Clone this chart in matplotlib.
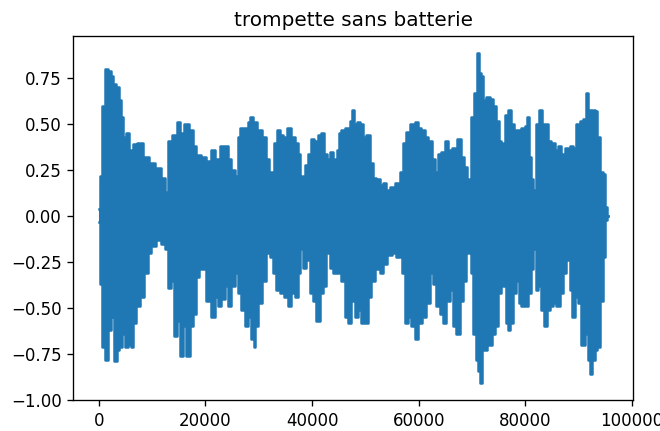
import numpy as np
import matplotlib
matplotlib.use("Agg")
import matplotlib.pyplot as plt

title = "trompette sans batterie"

# Upper envelope of the waveform: sample index, amplitude
upper_samples = [0, 313, 812, 1436, 2061, 2373, 2998, 3623, 4060, 4435, 4685, 5497, 5934, 6746,
                 7683, 8933, 9870, 11119, 12056, 12681, 13181, 14243, 15055, 15493, 16305, 17367,
                 17992, 18617, 19554, 20491, 21426, 22050, 23300, 23925, 24549, 25174, 25799,
                 26298, 26736, 27673, 28297, 28610, 29235, 30172, 31109, 31733, 32046, 32670,
                 33170, 33608, 34232, 34857, 35794, 36419, 37168, 37543, 37980, 38418, 38917,
                 39542, 40167, 40666, 41416, 42041, 42540, 42978, 43603, 44227, 44540, 44852,
                 45163, 45788, 46725, 47349, 47662, 48162, 48599, 49224, 49848, 50473, 51098,
                 51723, 52347, 52972, 53597, 54221, 55158, 56095, 56720, 57345, 57969, 58906,
                 59531, 60156, 60781, 61405, 62155, 62780, 63279, 63779, 64529, 65153, 65778,
                 66715, 67652, 68277, 68777, 69214, 69525, 70150, 70649, 71087, 71399, 71899,
                 72336, 72961, 73586, 74210, 74835, 75272, 75585, 75897, 76397, 77021, 77521,
                 78271, 78896, 79520, 80145, 80582, 80895, 81269, 81707, 82144, 82769, 83393,
                 84018, 84518, 85143, 85767, 86392, 87017, 87641, 88141, 88578, 89203, 89828,
                 90452, 91077, 91515, 92014, 92764, 93264, 93763, 94201, 94826, 95138, 95400]
upper_values = [0.04, 0.22, 0.60, 0.80, 0.79, 0.76, 0.72, 0.70, 0.63, 0.54, 0.43, 0.45, 0.36, 0.39,
                0.40, 0.32, 0.29, 0.26, 0.21, 0.13, 0.41, 0.44, 0.51, 0.45, 0.50, 0.47,
                0.38, 0.33, 0.32, 0.30, 0.36, 0.31, 0.38, 0.38, 0.31, 0.25, 0.22,
                0.43, 0.48, 0.48, 0.51, 0.54, 0.51, 0.47, 0.43, 0.31, 0.24, 0.24,
                0.40, 0.47, 0.44, 0.43, 0.48, 0.43, 0.40, 0.34, 0.20, 0.22, 0.28,
                0.34, 0.42, 0.41, 0.44, 0.45, 0.34, 0.31, 0.35, 0.31, 0.25, 0.36,
                0.45, 0.47, 0.48, 0.52, 0.58, 0.50, 0.51, 0.50, 0.43, 0.44, 0.29,
                0.21, 0.20, 0.17, 0.18, 0.14, 0.16, 0.18, 0.24, 0.40, 0.46, 0.50,
                0.51, 0.48, 0.47, 0.43, 0.41, 0.31, 0.24, 0.34, 0.35, 0.41, 0.36,
                0.37, 0.42, 0.32, 0.27, 0.20, 0.20, 0.54, 0.67, 0.89, 0.78, 0.76,
                0.63, 0.65, 0.64, 0.60, 0.52, 0.41, 0.20, 0.40, 0.55, 0.58, 0.50,
                0.47, 0.47, 0.48, 0.49, 0.54, 0.32, 0.20, 0.14, 0.50, 0.58, 0.50,
                0.50, 0.41, 0.40, 0.36, 0.38, 0.34, 0.37, 0.20, 0.38, 0.37, 0.50,
                0.52, 0.53, 0.67, 0.58, 0.58, 0.57, 0.43, 0.24, 0.23, 0.05, 0.0]

# Lower envelope of the waveform: sample index, amplitude
lower_samples = [0, 313, 937, 1436, 2061, 2373, 2686, 3186, 3623, 3935, 4248, 4560, 5185, 5809,
                 6309, 6559, 7371, 7996, 8933, 9558, 10182, 11119, 12056, 12806, 13181, 13931,
                 14306, 14868, 15493, 16118, 16742, 17367, 17992, 18617, 18929, 19554, 20491,
                 21426, 22050, 22675, 23300, 23925, 24549, 25174, 25799, 26423, 27048, 27673,
                 28297, 28922, 29235, 29547, 30172, 31109, 31733, 32358, 32983, 33608, 34232,
                 35169, 35794, 36419, 37168, 37668, 37980, 38605, 39230, 39854, 40479, 41104,
                 41728, 42353, 42978, 43603, 44227, 45163, 45788, 46412, 47037, 47662, 48287,
                 48911, 49536, 50161, 50785, 51410, 52347, 52972, 53597, 54534, 55471, 56095,
                 56720, 57157, 57657, 58282, 58906, 59531, 60156, 61093, 61718, 62342, 62967,
                 63592, 64216, 64841, 65466, 66090, 66715, 67340, 67965, 68589, 69214, 69525,
                 70025, 70462, 70899, 71399, 71711, 72024, 72524, 72961, 73586, 74023, 74523,
                 75147, 75585, 76084, 76522, 76896, 77334, 77958, 78583, 78896, 79520, 80145,
                 80770, 81269, 81707, 82144, 82644, 83268, 83768, 84205, 84830, 85455, 86080,
                 86704, 87329, 87954, 88578, 89016, 89640, 90140, 90765, 91390, 91889, 92389,
                 92764, 93264, 93763, 94201, 94826, 95138, 95400]
lower_values = [-0.03, -0.37, -0.71, -0.78, -0.62, -0.51, -0.55, -0.79, -0.73, -0.64, -0.71, -0.64, -0.71, -0.70,
                -0.71, -0.58, -0.49, -0.44, -0.31, -0.20, -0.16, -0.13, -0.15, -0.18, -0.39, -0.35,
                -0.65, -0.57, -0.76, -0.60, -0.76, -0.60, -0.53, -0.33, -0.22, -0.29, -0.46,
                -0.55, -0.44, -0.49, -0.45, -0.38, -0.49, -0.38, -0.31, -0.42, -0.51, -0.60,
                -0.55, -0.67, -0.71, -0.60, -0.47, -0.35, -0.20, -0.22, -0.31, -0.40, -0.42,
                -0.44, -0.49, -0.42, -0.44, -0.31, -0.18, -0.28, -0.24, -0.42, -0.46, -0.57,
                -0.42, -0.38, -0.20, -0.28, -0.31, -0.31, -0.35, -0.55, -0.58, -0.46, -0.55,
                -0.51, -0.58, -0.58, -0.44, -0.35, -0.29, -0.31, -0.26, -0.21, -0.20, -0.22,
                -0.17, -0.31, -0.58, -0.55, -0.60, -0.67, -0.58, -0.55, -0.47, -0.31, -0.37,
                -0.49, -0.53, -0.58, -0.46, -0.40, -0.60, -0.64, -0.46, -0.35, -0.20, -0.17,
                -0.31, -0.64, -0.78, -0.84, -0.91, -0.71, -0.73, -0.70, -0.70, -0.64, -0.60,
                -0.42, -0.13, -0.38, -0.58, -0.62, -0.58, -0.42, -0.35, -0.47, -0.49, -0.49,
                -0.42, -0.29, -0.18, -0.40, -0.38, -0.51, -0.60, -0.51, -0.49, -0.47, -0.49,
                -0.42, -0.31, -0.24, -0.40, -0.55, -0.44, -0.47, -0.70, -0.64, -0.78, -0.86,
                -0.78, -0.73, -0.71, -0.46, -0.22, -0.02, 0.0]

color = "#1f77b4"

fig = plt.figure(figsize=(660 / 120, 431 / 120), dpi=120)
ax = fig.add_axes([73.3 / 660, 1 - 400 / 431, (633 - 73.3) / 660, (400 - 36) / 431])

ax.fill_between(upper_samples, 0, upper_values, step="mid", color=color, linewidth=0)
ax.fill_between(lower_samples, lower_values, 0, step="mid", color=color, linewidth=0)
ax.step(upper_samples, upper_values, where="mid", color=color, linewidth=1.5)
ax.step(lower_samples, lower_values, where="mid", color=color, linewidth=1.5)

ax.set_ylim(-1.0, 0.98)
ax.set_yticks([-1.0, -0.75, -0.5, -0.25, 0.0, 0.25, 0.5, 0.75])
ax.set_xticks([0, 20000, 40000, 60000, 80000, 100000])
ax.set_title(title)

fig.savefig("out.png", dpi=120)
